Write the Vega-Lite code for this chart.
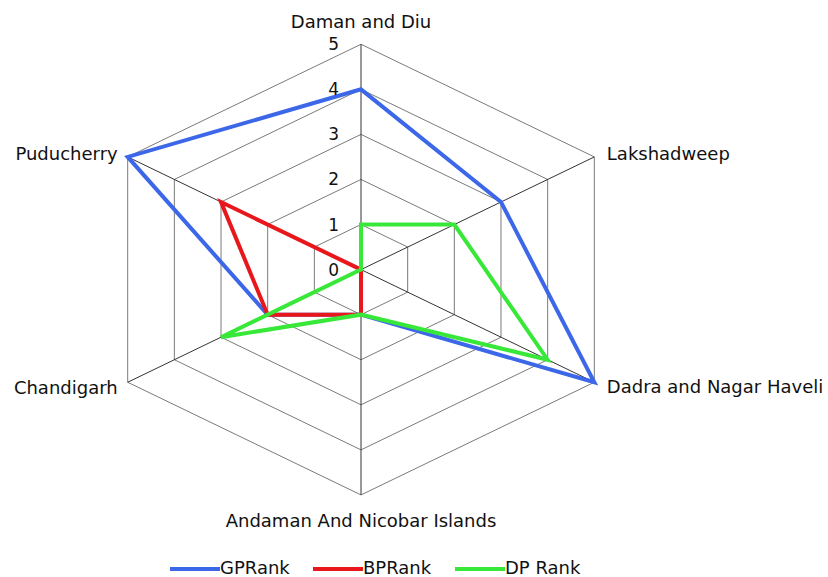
{
  "$schema": "https://vega.github.io/schema/vega-lite/v6.json",
  "width": 828,
  "height": 577,
  "padding": 0,
  "autosize": {"type": "none"},
  "background": "white",
  "config": {
    "view": {"stroke": null},
    "font": "DejaVu Sans",
    "text": {"font": "DejaVu Sans", "fontSize": 18, "fill": "#111111"}
  },
  "datasets": {
    "ranks": [
      {"cat": "Daman and Diu", "series": "GPRank", "value": 4},
      {"cat": "Lakshadweep", "series": "GPRank", "value": 3},
      {"cat": "Dadra and Nagar Haveli", "series": "GPRank", "value": 5},
      {"cat": "Andaman And Nicobar Islands", "series": "GPRank", "value": 1},
      {"cat": "Chandigarh", "series": "GPRank", "value": 2},
      {"cat": "Puducherry", "series": "GPRank", "value": 5},
      {"cat": "Daman and Diu", "series": "BPRank", "value": 0},
      {"cat": "Lakshadweep", "series": "BPRank", "value": 0},
      {"cat": "Dadra and Nagar Haveli", "series": "BPRank", "value": 0},
      {"cat": "Andaman And Nicobar Islands", "series": "BPRank", "value": 1},
      {"cat": "Chandigarh", "series": "BPRank", "value": 2},
      {"cat": "Puducherry", "series": "BPRank", "value": 3},
      {"cat": "Daman and Diu", "series": "DP Rank", "value": 1},
      {"cat": "Lakshadweep", "series": "DP Rank", "value": 2},
      {"cat": "Dadra and Nagar Haveli", "series": "DP Rank", "value": 4},
      {"cat": "Andaman And Nicobar Islands", "series": "DP Rank", "value": 1},
      {"cat": "Chandigarh", "series": "DP Rank", "value": 3},
      {"cat": "Puducherry", "series": "DP Rank", "value": 0}
    ],
    "cats": [
      {"cat": "Daman and Diu"},
      {"cat": "Lakshadweep"},
      {"cat": "Dadra and Nagar Haveli"},
      {"cat": "Andaman And Nicobar Islands"},
      {"cat": "Chandigarh"},
      {"cat": "Puducherry"}
    ],
    "levels": [
      {"level": 0}, {"level": 1}, {"level": 2}, {"level": 3}, {"level": 4}, {"level": 5}
    ],
    "rings": [
      {"level": 1, "cat": "Daman and Diu"}, {"level": 1, "cat": "Lakshadweep"}, {"level": 1, "cat": "Dadra and Nagar Haveli"}, {"level": 1, "cat": "Andaman And Nicobar Islands"}, {"level": 1, "cat": "Chandigarh"}, {"level": 1, "cat": "Puducherry"},
      {"level": 2, "cat": "Daman and Diu"}, {"level": 2, "cat": "Lakshadweep"}, {"level": 2, "cat": "Dadra and Nagar Haveli"}, {"level": 2, "cat": "Andaman And Nicobar Islands"}, {"level": 2, "cat": "Chandigarh"}, {"level": 2, "cat": "Puducherry"},
      {"level": 3, "cat": "Daman and Diu"}, {"level": 3, "cat": "Lakshadweep"}, {"level": 3, "cat": "Dadra and Nagar Haveli"}, {"level": 3, "cat": "Andaman And Nicobar Islands"}, {"level": 3, "cat": "Chandigarh"}, {"level": 3, "cat": "Puducherry"},
      {"level": 4, "cat": "Daman and Diu"}, {"level": 4, "cat": "Lakshadweep"}, {"level": 4, "cat": "Dadra and Nagar Haveli"}, {"level": 4, "cat": "Andaman And Nicobar Islands"}, {"level": 4, "cat": "Chandigarh"}, {"level": 4, "cat": "Puducherry"},
      {"level": 5, "cat": "Daman and Diu"}, {"level": 5, "cat": "Lakshadweep"}, {"level": 5, "cat": "Dadra and Nagar Haveli"}, {"level": 5, "cat": "Andaman And Nicobar Islands"}, {"level": 5, "cat": "Chandigarh"}, {"level": 5, "cat": "Puducherry"}
    ]
  },
  "layer": [
    {
      "data": {"name": "rings"},
      "transform": [
        {"calculate": "indexof(['Daman and Diu','Lakshadweep','Dadra and Nagar Haveli','Andaman And Nicobar Islands','Chandigarh','Puducherry'], datum.cat)", "as": "idx"},
        {"calculate": "datum.level * sin(datum.idx * PI / 3)", "as": "px"},
        {"calculate": "datum.level * cos(datum.idx * PI / 3)", "as": "py"}
      ],
      "mark": {"type": "line", "interpolate": "linear-closed", "stroke": "#7a7a7a", "strokeWidth": 1},
      "encoding": {
        "x": {"field": "px", "type": "quantitative", "axis": null, "scale": {"domain": [-6.7, 8.667], "nice": false, "zero": false}},
        "y": {"field": "py", "type": "quantitative", "axis": null, "scale": {"domain": [-6.821, 5.982], "nice": false, "zero": false}},
        "detail": {"field": "level", "type": "nominal"},
        "order": {"field": "idx", "type": "quantitative"}
      }
    },
    {
      "data": {"name": "cats"},
      "transform": [
        {"calculate": "indexof(['Daman and Diu','Lakshadweep','Dadra and Nagar Haveli','Andaman And Nicobar Islands','Chandigarh','Puducherry'], datum.cat)", "as": "idx"},
        {"calculate": "5 * sin(datum.idx * PI / 3)", "as": "px"},
        {"calculate": "5 * cos(datum.idx * PI / 3)", "as": "py"},
        {"calculate": "0", "as": "ox"}
      ],
      "mark": {"type": "rule", "stroke": "#333333", "strokeWidth": 1},
      "encoding": {
        "x": {"field": "ox", "type": "quantitative", "axis": null},
        "y": {"field": "ox", "type": "quantitative", "axis": null},
        "x2": {"field": "px"},
        "y2": {"field": "py"}
      }
    },
    {
      "data": {"name": "ranks"},
      "transform": [
        {"calculate": "indexof(['Daman and Diu','Lakshadweep','Dadra and Nagar Haveli','Andaman And Nicobar Islands','Chandigarh','Puducherry'], datum.cat)", "as": "idx"},
        {"calculate": "datum.value * sin(datum.idx * PI / 3)", "as": "px"},
        {"calculate": "datum.value * cos(datum.idx * PI / 3)", "as": "py"}
      ],
      "mark": {"type": "line", "interpolate": "linear-closed", "strokeWidth": 4, "strokeJoin": "miter"},
      "encoding": {
        "x": {"field": "px", "type": "quantitative", "axis": null},
        "y": {"field": "py", "type": "quantitative", "axis": null},
        "order": {"field": "idx", "type": "quantitative"},
        "color": {
          "field": "series",
          "type": "nominal",
          "scale": {"domain": ["GPRank", "BPRank", "DP Rank"], "range": ["#3c67e8", "#e8171c", "#38e838"]},
          "legend": {
            "title": null,
            "orient": "none",
            "legendX": 168,
            "legendY": 542,
            "padding": 0,
            "direction": "horizontal",
            "symbolType": "stroke",
            "symbolSize": 2500,
            "symbolStrokeWidth": 4,
            "labelFont": "DejaVu Sans",
            "labelFontSize": 18,
            "labelColor": "#111111",
            "labelOffset": -2,
            "columnPadding": 15
          }
        }
      }
    },
    {
      "data": {"name": "levels"},
      "transform": [{"calculate": "0", "as": "ox"}],
      "mark": {"type": "text", "align": "right", "baseline": "middle", "dx": -22, "dy": 1, "fontSize": 17},
      "encoding": {
        "x": {"field": "ox", "type": "quantitative", "axis": null},
        "y": {"field": "level", "type": "quantitative", "axis": null},
        "text": {"field": "level", "type": "quantitative"}
      }
    },
    {
      "data": {"name": "cats"},
      "transform": [
        {"calculate": "indexof(['Daman and Diu','Lakshadweep','Dadra and Nagar Haveli','Andaman And Nicobar Islands','Chandigarh','Puducherry'], datum.cat)", "as": "idx"},
        {"filter": "datum.idx == 0"},
        {"calculate": "5 * sin(datum.idx * PI / 3)", "as": "px"},
        {"calculate": "5 * cos(datum.idx * PI / 3)", "as": "py"}
      ],
      "mark": {"type": "text", "align": "center", "baseline": "alphabetic", "dy": -16.6},
      "encoding": {
        "x": {"field": "px", "type": "quantitative", "axis": null},
        "y": {"field": "py", "type": "quantitative", "axis": null},
        "text": {"field": "cat", "type": "nominal"}
      }
    },
    {
      "data": {"name": "cats"},
      "transform": [
        {"calculate": "indexof(['Daman and Diu','Lakshadweep','Dadra and Nagar Haveli','Andaman And Nicobar Islands','Chandigarh','Puducherry'], datum.cat)", "as": "idx"},
        {"filter": "datum.idx == 3"},
        {"calculate": "5 * sin(datum.idx * PI / 3)", "as": "px"},
        {"calculate": "5 * cos(datum.idx * PI / 3)", "as": "py"}
      ],
      "mark": {"type": "text", "align": "center", "baseline": "alphabetic", "dy": 32},
      "encoding": {
        "x": {"field": "px", "type": "quantitative", "axis": null},
        "y": {"field": "py", "type": "quantitative", "axis": null},
        "text": {"field": "cat", "type": "nominal"}
      }
    },
    {
      "data": {"name": "cats"},
      "transform": [
        {"calculate": "indexof(['Daman and Diu','Lakshadweep','Dadra and Nagar Haveli','Andaman And Nicobar Islands','Chandigarh','Puducherry'], datum.cat)", "as": "idx"},
        {"filter": "datum.idx == 1"},
        {"calculate": "5 * sin(datum.idx * PI / 3)", "as": "px"},
        {"calculate": "5 * cos(datum.idx * PI / 3)", "as": "py"}
      ],
      "mark": {"type": "text", "align": "left", "baseline": "alphabetic", "dx": 12.5, "dy": 2.6},
      "encoding": {
        "x": {"field": "px", "type": "quantitative", "axis": null},
        "y": {"field": "py", "type": "quantitative", "axis": null},
        "text": {"field": "cat", "type": "nominal"}
      }
    },
    {
      "data": {"name": "cats"},
      "transform": [
        {"calculate": "indexof(['Daman and Diu','Lakshadweep','Dadra and Nagar Haveli','Andaman And Nicobar Islands','Chandigarh','Puducherry'], datum.cat)", "as": "idx"},
        {"filter": "datum.idx == 2"},
        {"calculate": "5 * sin(datum.idx * PI / 3)", "as": "px"},
        {"calculate": "5 * cos(datum.idx * PI / 3)", "as": "py"}
      ],
      "mark": {"type": "text", "align": "left", "baseline": "alphabetic", "dx": 12.5, "dy": 10.5},
      "encoding": {
        "x": {"field": "px", "type": "quantitative", "axis": null},
        "y": {"field": "py", "type": "quantitative", "axis": null},
        "text": {"field": "cat", "type": "nominal"}
      }
    },
    {
      "data": {"name": "cats"},
      "transform": [
        {"calculate": "indexof(['Daman and Diu','Lakshadweep','Dadra and Nagar Haveli','Andaman And Nicobar Islands','Chandigarh','Puducherry'], datum.cat)", "as": "idx"},
        {"filter": "datum.idx == 4"},
        {"calculate": "5 * sin(datum.idx * PI / 3)", "as": "px"},
        {"calculate": "5 * cos(datum.idx * PI / 3)", "as": "py"}
      ],
      "mark": {"type": "text", "align": "right", "baseline": "alphabetic", "dx": -10, "dy": 11.7},
      "encoding": {
        "x": {"field": "px", "type": "quantitative", "axis": null},
        "y": {"field": "py", "type": "quantitative", "axis": null},
        "text": {"field": "cat", "type": "nominal"}
      }
    },
    {
      "data": {"name": "cats"},
      "transform": [
        {"calculate": "indexof(['Daman and Diu','Lakshadweep','Dadra and Nagar Haveli','Andaman And Nicobar Islands','Chandigarh','Puducherry'], datum.cat)", "as": "idx"},
        {"filter": "datum.idx == 5"},
        {"calculate": "5 * sin(datum.idx * PI / 3)", "as": "px"},
        {"calculate": "5 * cos(datum.idx * PI / 3)", "as": "py"}
      ],
      "mark": {"type": "text", "align": "right", "baseline": "alphabetic", "dx": -10, "dy": 2.6},
      "encoding": {
        "x": {"field": "px", "type": "quantitative", "axis": null},
        "y": {"field": "py", "type": "quantitative", "axis": null},
        "text": {"field": "cat", "type": "nominal"}
      }
    }
  ]
}
